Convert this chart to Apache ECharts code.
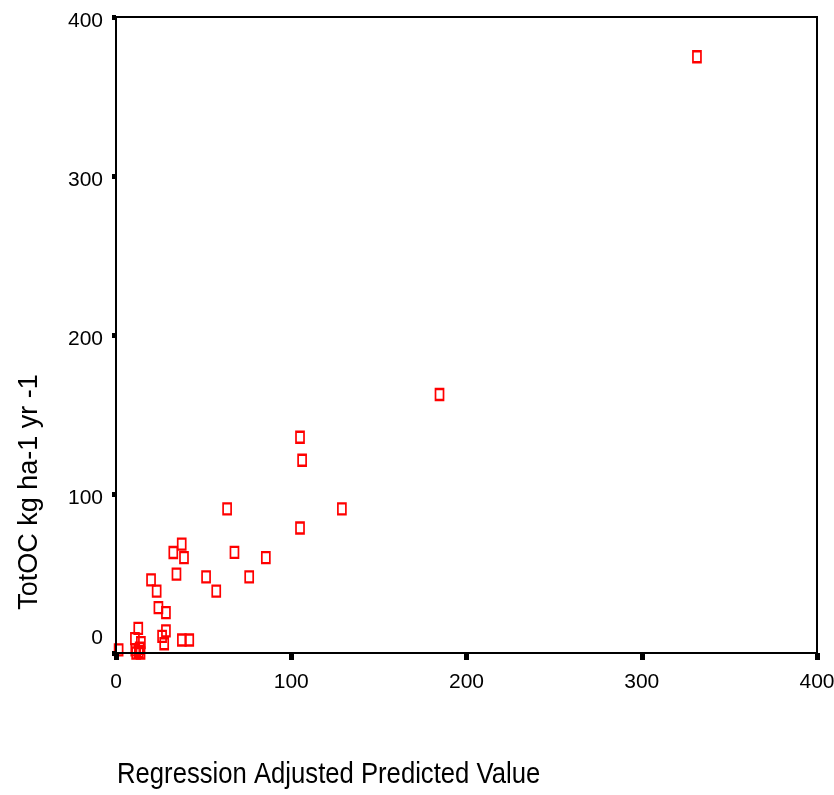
<!DOCTYPE html>
<html>
<head>
<meta charset="utf-8">
<script src="https://cdn.jsdelivr.net/npm/echarts@6/dist/echarts.min.js"></script>
<style>
  html, body { margin: 0; padding: 0; background: #fff; }
  #chart { width: 834px; height: 795px; }
</style>
</head>
<body>
<div id="chart"></div>
<script>
// 回归散点图：调整后预测值 vs TotOC
const FONT = "'Liberation Sans Narrow', 'Arial Narrow', 'Liberation Sans', Arial, sans-serif"

// 数据
const predicted = [331.5, 184.6, 105, 106.2, 105, 128.9, 63.4, 85.5, 67.6, 76, 51.4, 57.2,
  32.7, 37.5, 38.8, 20, 23.2, 34.5, 24.2, 28.5, 12.7, 28.5, 26.3, 27.5, 37.6, 41.8,
  10.8, 14.2, 1.5, 11, 13, 14, 11.5, 13.5]
const totOC = [375, 162.6, 135.7, 121.2, 78.6, 90.6, 90.6, 60, 63.3, 47.9, 47.9, 38.9,
  63.2, 68.5, 60, 46, 38.9, 49.6, 28.5, 25.4, 15.5, 13.9, 10.5, 5.8, 8.2, 8.2,
  9, 6.5, 2, 2, 1, 0, 0, 3]
const xTicks = [0, 100, 200, 300, 400]
const yTicks = [0, 100, 200, 300, 400]

const xTitle = 'Regression Adjusted Predicted Value'
const yTitle = 'TotOC kg ha-1 yr -1'

const points = predicted.map((x, i) => [x, totOC[i]])

const chart = echarts.init(document.getElementById('chart'), null, { renderer: 'canvas' })

chart.setOption({
  backgroundColor: '#fff',
  animation: false,
  grid: {
    left: 116, top: 17, right: 17, bottom: 142,
    outerBoundsMode: 'none',
    containLabel: false,
    show: true, borderColor: '#000', borderWidth: 2
  },
  xAxis: {
    type: 'value',
    min: xTicks[0], max: xTicks[xTicks.length - 1], interval: 100,
    z: 5,
    splitLine: { show: false },
    axisLine: { onZero: false, lineStyle: { color: '#000', width: 2 } },
    axisTick: { length: 7, lineStyle: { color: '#000', width: 5 } },
    axisLabel: { color: '#000', fontSize: 21, fontFamily: FONT, margin: 19 }
  },
  yAxis: {
    type: 'value',
    min: yTicks[0], max: yTicks[yTicks.length - 1], interval: 100,
    z: 5,
    splitLine: { show: false },
    axisLine: { onZero: false, lineStyle: { color: '#000', width: 2 } },
    axisTick: { length: 4, lineStyle: { color: '#000', width: 5 } },
    axisLabel: {
      color: '#000', fontSize: 21, fontFamily: FONT, margin: 13,
      formatter: v => v === 0 ? '{z|0}' : '{n|' + v + '}',
      rich: {
        z: { fontSize: 21, fontFamily: FONT, color: '#000', padding: [0, 0, 30, 0] },
        n: { fontSize: 21, fontFamily: FONT, color: '#000', padding: [9, 0, 0, 0] }
      }
    }
  },
  graphic: [
    {
      type: 'text', x: 117, y: 775, scaleX: 0.885,
      style: { text: xTitle, fill: '#000', font: '29px ' + FONT, verticalAlign: 'middle' }
    },
    {
      type: 'text', x: 30, y: 492, rotation: Math.PI / 2,
      style: {
        text: yTitle, fill: '#000', font: '27px ' + FONT,
        align: 'center', verticalAlign: 'middle'
      }
    }
  ],
  series: [{
    type: 'scatter',
    z: 2,
    symbol: 'rect',
    symbolSize: [8, 11],
    itemStyle: { color: 'rgba(0,0,0,0)', borderColor: '#ff0000', borderWidth: 2, opacity: 1 },
    data: points
  }]
})
</script>
</body>
</html>
